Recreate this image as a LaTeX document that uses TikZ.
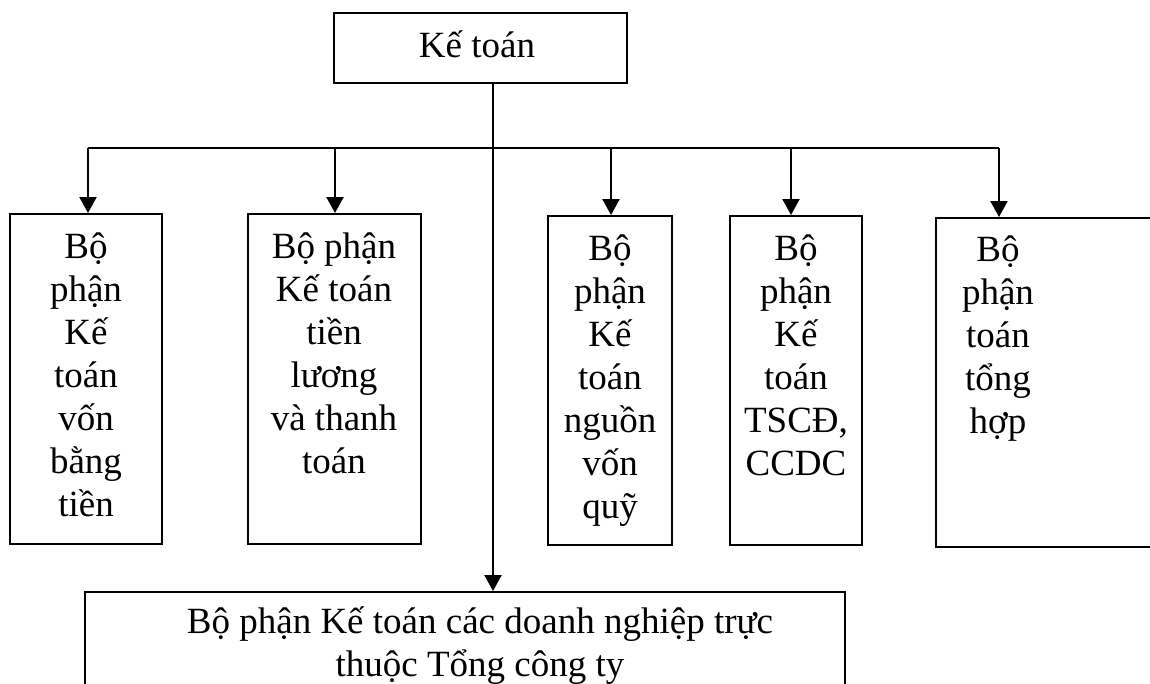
\documentclass[tikz,border=0pt]{standalone}
\usepackage{fontspec}
\setmainfont{Liberation Serif}
\usetikzlibrary{arrows.meta}
\begin{document}
\begin{tikzpicture}[x=1pt,y=-1pt,
  box/.style={draw, line width=2pt, rectangle, anchor=north west, inner sep=0pt},
  txt/.style={align=center, font=\fontsize{37}{43}\selectfont, inner sep=0pt, anchor=base},
  conn/.style={line width=2.2pt},
  arr/.style={conn, -{Triangle[width=17pt 0,length=16pt 0]}}]
\useasboundingbox (0,0) rectangle (1150,683);
\clip (0,0) rectangle (1150,683);
% boxes
\node[box, minimum width=293pt, minimum height=70pt] (top) at (333,12) {};
\node[box, minimum width=152pt, minimum height=330pt] (b1) at (9,213) {};
\node[box, minimum width=173pt, minimum height=330pt] (b2) at (247,213) {};
\node[box, minimum width=124pt, minimum height=329pt] (b3) at (547,215) {};
\node[box, minimum width=132pt, minimum height=329pt] (b4) at (729,215) {};
\node[box, minimum width=240pt, minimum height=329pt] (b5) at (935,217) {};
\node[box, minimum width=760pt, minimum height=120pt] (bot) at (84,591) {};
% texts (base anchor = baseline of the last line)
\node[txt] (ttop) at (477,57) {Kế toán};
\node[txt] (t1) at (86,516) {Bộ\\phận\\Kế\\toán\\vốn\\bằng\\tiền};
\node[txt] (t2) at (334,473) {Bộ phận\\Kế toán\\tiền\\lương\\và thanh\\toán};
\node[txt] (t3) at (610,518) {Bộ\\phận\\Kế\\toán\\nguồn\\vốn\\quỹ};
\node[txt] (t4) at (796,475) {Bộ\\phận\\Kế\\toán\\TSCĐ,\\CCDC};
\node[txt] (t5) at (998,433) {Bộ\\phận\\toán\\tổng\\hợp};
\node[txt] (tbot) at (480,676) {Bộ phận Kế toán các doanh nghiệp trực\\thuộc Tổng công ty};
% connectors
\coordinate (j) at (493,148);
\coordinate (c1) at (88,148);
\coordinate (c2) at (335,148);
\coordinate (c3) at (611,148);
\coordinate (c4) at (791,148);
\coordinate (c5) at (999,148);
\draw[conn] (top.south -| j) -- (j);
\draw[arr] (j) -- (j |- bot.north);
\draw[conn] (c1) -- (c5);
\draw[arr] (c1) -- (c1 |- b1.north);
\draw[arr] (c2) -- (c2 |- b2.north);
\draw[arr] (c3) -- (c3 |- b3.north);
\draw[arr] (c4) -- (c4 |- b4.north);
\draw[arr] (c5) -- (c5 |- b5.north);
\end{tikzpicture}
\end{document}
